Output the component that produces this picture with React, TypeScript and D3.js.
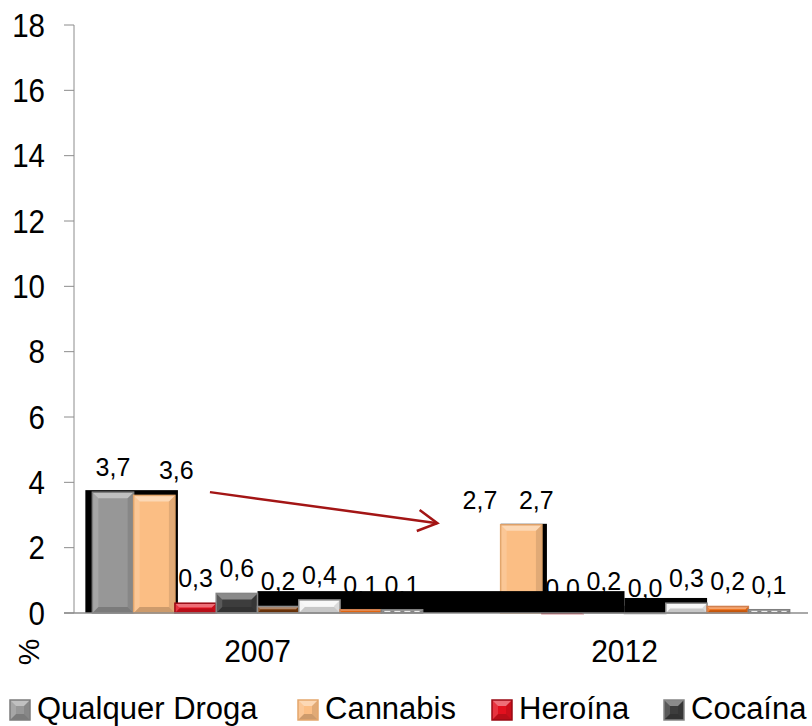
import React from 'react';
import * as d3 from 'd3';

const categories = ['2007', '2012'];
const seriesNames = ['Qualquer Droga', 'Cannabis', 'Heroína', 'Cocaína', 'Anfetaminas', 'Ecstasy', 'LSD', 'Cogumelos'];
const values2007 = [3.7, 3.6, 0.3, 0.6, 0.2, 0.4, 0.1, 0.1];
const values2012 = [2.7, 2.7, 0.0, 0.2, 0.0, 0.3, 0.2, 0.1];
const yTickValues = [0, 2, 4, 6, 8, 10, 12, 14, 16, 18];
const shadowLevels = [0.67, 0.46];

const seriesColors = ['#979797', '#FBBE84', '#E3101E', '#3D3D3D', '#7A3A0A', '#F3F3F3', '#EE6A10', '#8C8C8C'];
const seriesBorders = ['#7c7c7c', '#e3a66c', '#9a0a14', '#858585', '#8c8c8c', '#8c8c8c', '#d08050', '#7f7f7f'];

const W = 812;
const H = 726;
const left = 74;
const right = 808;
const top = 25;
const bottom = 613;
const font = 'Liberation Sans, Arial, Helvetica, sans-serif';

const fmt = (v: number) => d3.format('.1f')(v).replace('.', ',');

const x0 = d3.scaleBand<string>().domain(categories).range([left, right]).paddingInner(0.1).paddingOuter(0.05);
const x1 = d3.scaleBand<number>().domain(d3.range(seriesNames.length)).range([0, x0.bandwidth()]);
const y = d3.scaleLinear().domain([0, 18]).range([bottom, top]);

const valuesByCat: Record<string, number[]> = { '2007': values2007, '2012': values2012 };

function bevelBar(key: string, x: number, yTop: number, w: number, h: number, si: number, dashed = false) {
  const b = Math.max(0, Math.min(6, h / 2 - 0.5, w / 2));
  const fill = seriesColors[si];
  const stroke = seriesBorders[si];
  const pts = (a: number[][]) => a.map((p) => p.join(',')).join(' ');
  return (
    <g key={key}>
      <rect x={x} y={yTop} width={w} height={Math.max(h, 0.5)} fill={fill} />
      {b > 1 && (
        <>
          <polygon points={pts([[x, yTop], [x + w, yTop], [x + w - b, yTop + b], [x + b, yTop + b]])} fill="#fff" opacity={0.4} />
          <polygon points={pts([[x, yTop + h], [x + w, yTop + h], [x + w - b, yTop + h - b], [x + b, yTop + h - b]])} fill="#000" opacity={0.18} />
          <polygon points={pts([[x, yTop], [x + b, yTop + b], [x + b, yTop + h - b], [x, yTop + h]])} fill="#fff" opacity={0.15} />
          <polygon points={pts([[x + w, yTop], [x + w - b, yTop + b], [x + w - b, yTop + h - b], [x + w, yTop + h]])} fill="#000" opacity={0.1} />
        </>
      )}
      {dashed && (
        <line x1={x + 3} x2={x + w - 3} y1={yTop + h / 2} y2={yTop + h / 2} stroke="#fff" strokeWidth={1} strokeDasharray="6,4" />
      )}
      <rect x={x} y={yTop} width={w} height={Math.max(h, 0.5)} fill="none" stroke={stroke} strokeWidth={1.5} />
    </g>
  );
}

function barGeom(cat: string, si: number) {
  const v = valuesByCat[cat][si];
  const bx = (x0(cat) as number) + (x1(si) as number);
  const bw = x1.bandwidth();
  const yt = y(v);
  return { v, bx, bw, yt, h: bottom - yt };
}

export default function App() {
  const bw = x1.bandwidth();
  const series = d3.range(seriesNames.length);

  const behind2012 = series.filter((si) => si >= 1 && si <= 4);
  const front2012 = series.filter((si) => si >= 5);

  const g07a = barGeom('2007', 0);
  const g07b = barGeom('2007', 1);
  const g12b = barGeom('2012', 1);

  const bandA = { x: (x0('2007') as number) + (x1(4) as number), x2: (x0('2012') as number) + (x1(4) as number), yt: y(shadowLevels[0]) };
  const bandB = { x: (x0('2012') as number) + (x1(4) as number), x2: (x0('2012') as number) + (x1(5) as number) + bw, yt: y(shadowLevels[1]) };

  const ax1 = g07b.bx + bw + 35;
  const ay1 = y(values2007[0]);
  const ax2 = (x0('2012') as number) - 22;
  const ay2 = y(values2012[0] + 0.05);
  const ang = Math.atan2(ay2 - ay1, ax2 - ax1);
  const headL = 22;
  const headA = 0.5;
  const hp1 = [ax2 - headL * Math.cos(ang - headA), ay2 - headL * Math.sin(ang - headA)];
  const hp2 = [ax2 - headL * Math.cos(ang + headA), ay2 - headL * Math.sin(ang + headA)];

  const legendX = [10, 298, 492, 664];

  return (
    <svg width={W} height={H} style={{ position: 'absolute', left: 0, top: 0, background: '#fff' }} fontFamily={font}>
      <rect x={0} y={0} width={W} height={H} fill="#fff" />
      <line x1={left} x2={left} y1={top} y2={bottom} stroke="#8c8c8c" strokeWidth={1} />
      {yTickValues.map((t) => (
        <g key={t}>
          <line x1={left - 10} x2={left} y1={y(t)} y2={y(t)} stroke="#8c8c8c" strokeWidth={1} />
          <g transform={`translate(45,${y(t)}) scale(1,1.1)`}>
            <text x={0} y={0} dy="0.36em" textAnchor="end" fontSize={29.5} fill="#000">{t}</text>
          </g>
        </g>
      ))}

      <rect x={g12b.bx} y={g12b.yt - 1} width={bw + 5} height={g12b.h + 1} fill="#000" />
      {behind2012.map((si) => {
        const g = barGeom('2012', si);
        return bevelBar('b12-' + si, g.bx, g.yt, g.bw, g.h, si, si === 7);
      })}

      {categories.map((cat) =>
        series.map((si) => {
          const g = barGeom(cat, si);
          const dx = si === 1 ? (cat === '2007' ? 22 : 15) : 0;
          return (
            <text key={cat + '-l-' + si} x={g.bx + bw / 2 + dx} y={g.yt - 16} textAnchor="middle" fontSize={25} fill="#000">
              {fmt(g.v)}
            </text>
          );
        })
      )}

      <rect x={bandA.x} y={bandA.yt} width={bandA.x2 - bandA.x} height={bottom - bandA.yt} fill="#000" />
      <rect x={bandB.x} y={bandB.yt} width={bandB.x2 - bandB.x} height={bottom - bandB.yt} fill="#000" />

      <rect x={g07a.bx - 7} y={g07a.yt - 2} width={g07b.bx + bw + 3 - (g07a.bx - 7)} height={bottom - g07a.yt + 2} fill="#000" />

      {series.map((si) => {
        const g = barGeom('2007', si);
        return bevelBar('b07-' + si, g.bx, g.yt, g.bw, g.h, si, si === 7);
      })}
      {front2012.map((si) => {
        const g = barGeom('2012', si);
        return bevelBar('f12-' + si, g.bx, g.yt, g.bw, g.h, si, si === 7);
      })}

      <line x1={left - 10} x2={right} y1={bottom} y2={bottom} stroke="#8c8c8c" strokeWidth={1.5} />

      <line x1={ax1} y1={ay1} x2={ax2} y2={ay2} stroke="#A31515" strokeWidth={2.5} />
      <polyline points={`${hp1[0]},${hp1[1]} ${ax2},${ay2} ${hp2[0]},${hp2[1]}`} fill="none" stroke="#A31515" strokeWidth={2.5} />

      {categories.map((c) => (
        <g key={c} transform={`translate(${(x0(c) as number) + x0.bandwidth() / 2},662) scale(1,1.05)`}>
          <text x={0} y={0} textAnchor="middle" fontSize={30} fill="#000">{c}</text>
        </g>
      ))}
      <text transform={`translate(28,652) rotate(-90)`} textAnchor="middle" dy="0.36em" fontSize={30} fill="#000">%</text>

      {legendX.map((lx, i) => (
        <g key={'lg' + i}>
          {bevelBar('lgb' + i, lx, 700, 20, 20, i)}
          <text x={lx + 27} y={719} fontSize={31} fill="#000">{seriesNames[i]}</text>
        </g>
      ))}
    </svg>
  );
}
